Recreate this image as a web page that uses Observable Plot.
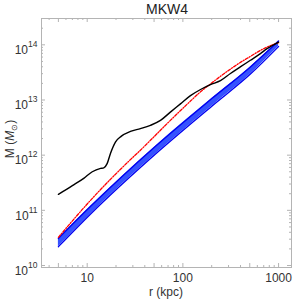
<!DOCTYPE html>
<html><head><meta charset="utf-8">
<script src="https://cdn.jsdelivr.net/npm/d3@7"></script>
<script src="https://cdn.jsdelivr.net/npm/@observablehq/plot@0.6"></script>
<style>
body{margin:0;background:#fff}
svg{font-family:"Liberation Sans",Arial,sans-serif}
</style>
</head><body><div id="chart"></div><script>
// ---- data ----
const title = "MKW4";
const xLabel = "r (kpc)";

// black curve: enclosed mass profile
const blackR = [5, 7, 9.2, 11.3, 13.8, 14.9, 16.2, 17.5, 19.8, 22.6, 28.3, 36, 45.8, 58.3, 74, 94.3, 120, 153, 194, 247, 314, 398, 508, 646, 759, 1000];
const blackM = [1.95e11, 2.8e11, 3.8e11, 5.0e11, 5.75e11, 5.9e11, 7.1e11, 1.07e12, 1.74e12, 2.19e12, 2.69e12, 3.02e12, 3.47e12, 4.27e12, 6.03e12, 8.51e12, 1.2e13, 1.55e13, 1.9e13, 2.24e13, 3.02e13, 3.98e13, 5.25e13, 6.92e13, 8.51e13, 1.12e14];

// red dash-dot curve
const redR = [5, 10.8, 28.3, 36, 45.8, 74, 120, 153, 194, 247, 314, 398, 508, 646, 1000];
const redM = [3.24e10, 1.51e11, 8.3e11, 1.23e12, 1.86e12, 4.27e12, 9.55e12, 1.41e13, 1.95e13, 2.69e13, 3.63e13, 4.79e13, 6.17e13, 7.94e13, 1.1e14];

// blue band (lower / upper edges)
const blueR  = [5, 10.8, 51.8, 202, 508, 1000];
const blueLo = [2.19e10, 8.5e10, 1.05e12, 7.8e12, 2.95e13, 9.3e13];
const blueHi = [3.09e10, 1.17e11, 1.45e12, 1.07e13, 3.98e13, 1.17e14];

// ticks
const xMajor = [5, 10, 50, 100, 500, 1000];
const xMinor = [4, 6, 7, 8, 9, 20, 30, 40, 60, 70, 80, 90, 200, 300, 400, 600, 700, 800, 900];
const yMajor = [1e10, 1e11, 1e12, 1e13, 1e14];
const yMinor = [2e10,3e10,4e10,5e10,6e10,7e10,8e10,9e10,2e11,3e11,4e11,5e11,6e11,7e11,8e11,9e11,2e12,3e12,4e12,5e12,6e12,7e12,8e12,9e12,2e13,3e13,4e13,5e13,6e13,7e13,8e13,9e13,2e14];

// ---- build tables ----
const black = blackR.map((r, i) => ({r, m: blackM[i]}));
const red = redR.map((r, i) => ({r, m: redM[i]}));
const blue = blueR.map((r, i) => ({r, lo: blueLo[i], hi: blueHi[i]}));

const W = 295, H = 302, ML = 41, MR = 4, MT = 18, MB = 35;
const iw = W - ML - MR, ih = H - MT - MB;
const gray = "#b4b4b4";
const txt = "#333";

const chart = Plot.plot({
  width: W, height: H,
  marginLeft: ML, marginRight: MR, marginTop: MT, marginBottom: MB,
  style: {background: "white", fontFamily: "Liberation Sans, Arial, sans-serif", fontSize: "12px", color: txt},
  x: {type: "log", domain: [3.33, 1365], axis: null},
  y: {type: "log", domain: [9.2e9, 3e14], axis: null},
  marks: [
    Plot.areaY(blue, {x: "r", y1: "lo", y2: "hi", fill: "#3552ff", curve: "monotone-x"}),
    Plot.lineY(blue, {x: "r", y: "lo", stroke: "#0000f0", strokeWidth: 1.3, curve: "monotone-x"}),
    Plot.lineY(blue, {x: "r", y: "hi", stroke: "#0000f0", strokeWidth: 1.3, curve: "monotone-x"}),
    Plot.lineY(red, {x: "r", y: "m", stroke: "#ff0000", strokeWidth: 1.3, strokeDasharray: "3,1.5,1,1.5", curve: "monotone-x"}),
    Plot.lineY(black, {x: "r", y: "m", stroke: "#000", strokeWidth: 1.4, curve: "monotone-x"}),
    Plot.frame({stroke: gray}),
    // inward major / minor ticks on all four sides
    Plot.ruleX(xMajor, {x: d => d, insetTop: ih - 4, stroke: gray}),
    Plot.ruleX(xMinor, {x: d => d, insetTop: ih - 2, stroke: gray}),
    Plot.ruleX(xMajor, {x: d => d, insetBottom: ih - 4, stroke: gray}),
    Plot.ruleX(xMinor, {x: d => d, insetBottom: ih - 2, stroke: gray}),
    Plot.ruleY(yMajor, {y: d => d, insetRight: iw - 4, stroke: gray}),
    Plot.ruleY(yMinor, {y: d => d, insetRight: iw - 2, stroke: gray}),
    Plot.ruleY(yMajor, {y: d => d, insetLeft: iw - 4, stroke: gray}),
    Plot.ruleY(yMinor, {y: d => d, insetLeft: iw - 2, stroke: gray}),
    // tick labels
    Plot.axisX(xMajor, {anchor: "bottom", tickSize: 0, tickPadding: 6, tickFormat: d => String(d), fill: txt, label: null, fontSize: 12}),
    Plot.axisY(yMajor, {anchor: "left", tickSize: 0, tickPadding: 4, tickFormat: d => String(Math.round(Math.log10(d))), fill: txt, label: null, fontSize: 12})
  ]
});

document.getElementById("chart").appendChild(chart);

// superscript powers of ten on y tick labels
const svg = d3.select(chart);
svg.selectAll('g[aria-label="y-axis tick label"] text').each(function() {
  const t = d3.select(this);
  const p = t.text();
  t.text(null).attr("dy", "0.45em");
  t.append("tspan").text("10");
  t.append("tspan").attr("dy", -7).attr("font-size", 8.5).text(p);
});

// title
svg.append("text").attr("x", 167).attr("y", 13.5).attr("text-anchor", "middle")
  .attr("font-size", 14).attr("fill", "#222").text(title);

// x label
svg.append("text").attr("x", 166).attr("y", 296).attr("text-anchor", "middle")
  .attr("font-size", 12).attr("fill", txt).text(xLabel);

// y label: M (M_sun)
const yl = svg.append("text").attr("transform", "translate(13.5,139) rotate(-90)")
  .attr("text-anchor", "middle").attr("font-size", 12).attr("fill", txt);
yl.append("tspan").text("M (");
yl.append("tspan").attr("font-style", "italic").text("M");
yl.append("tspan").attr("font-size", 8).attr("dy", 3).text("⊙");
yl.append("tspan").attr("dy", -3).text(")");
</script></body></html>
